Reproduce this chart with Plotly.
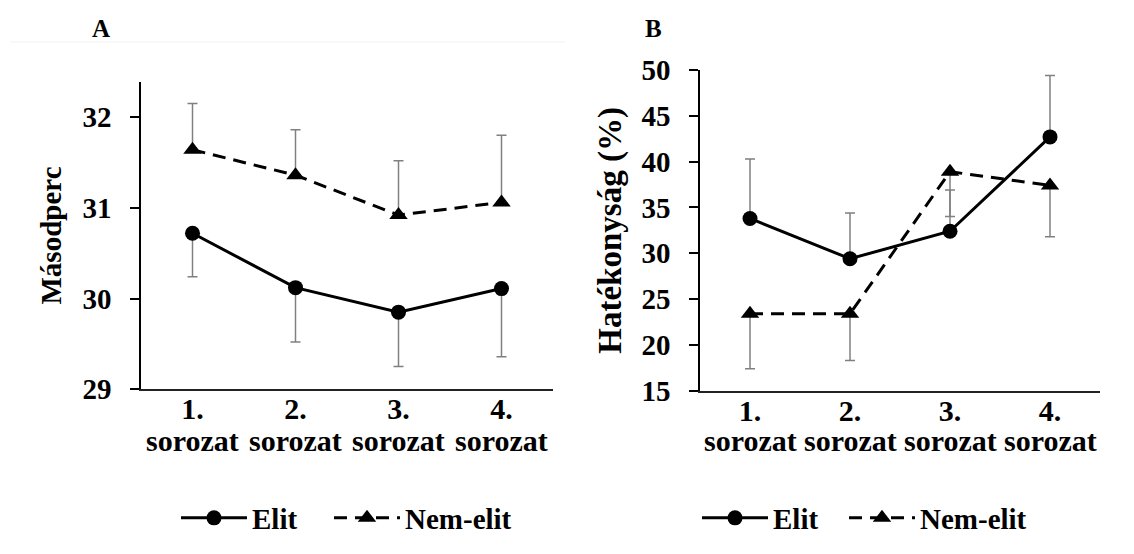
import plotly.graph_objects as go

# Categories (series of the test); second line of each label
categories = ["1.", "2.", "3.", "4."]
category_word = "sorozat"

# Panel A: time in seconds
sec_elit = [30.72, 30.12, 29.85, 30.11]
sec_elit_sd = [0.48, 0.60, 0.60, 0.75]
sec_nonelit = [31.64, 31.36, 30.92, 31.06]
sec_nonelit_sd = [0.51, 0.50, 0.60, 0.74]

# Panel B: efficiency (%)
eff_elit = [33.8, 29.4, 32.4, 42.7]
eff_elit_sd = [6.5, 5.0, 4.5, 6.7]
eff_nonelit = [23.4, 23.4, 38.9, 37.4]
eff_nonelit_sd = [6.0, 5.1, 4.9, 5.6]

zeros = [0, 0, 0, 0]
FONT = "Liberation Serif"
ERR_COLOR = "#808080"
H = 554
W = 1134


def bold(size):
    return dict(family=FONT, size=size, color="black", weight="bold")


def err(up, down):
    return dict(type="data", symmetric=False, array=up, arrayminus=down,
                color=ERR_COLOR, thickness=1.5, width=5)


fig = go.Figure()

# Panel A
fig.add_trace(go.Scatter(
    x=categories, y=sec_elit, name="Elit", mode="lines+markers",
    line=dict(color="black", width=3),
    marker=dict(symbol="circle", size=15, color="black"),
    error_y=err(zeros, sec_elit_sd), xaxis="x", yaxis="y",
    legend="legend", showlegend=True))
fig.add_trace(go.Scatter(
    x=categories, y=sec_nonelit, name="Nem-elit", mode="lines+markers",
    line=dict(color="black", width=3, dash="13px,8px"),
    marker=dict(symbol="triangle-up", size=16, color="black"),
    error_y=err(sec_nonelit_sd, zeros), xaxis="x", yaxis="y",
    legend="legend2", showlegend=True))

# Panel B
fig.add_trace(go.Scatter(
    x=categories, y=eff_elit, name="Elit", mode="lines+markers",
    line=dict(color="black", width=3),
    marker=dict(symbol="circle", size=15, color="black"),
    error_y=err(eff_elit_sd, zeros), xaxis="x2", yaxis="y2",
    legend="legend3", showlegend=True))
fig.add_trace(go.Scatter(
    x=categories, y=eff_nonelit, name="Nem-elit", mode="lines+markers",
    line=dict(color="black", width=3, dash="13px,8px"),
    marker=dict(symbol="triangle-up", size=16, color="black"),
    error_y=err(zeros, eff_nonelit_sd), xaxis="x2", yaxis="y2",
    legend="legend4", showlegend=True))

xcommon = dict(type="category", range=[-0.5, 3.5], showline=True, linecolor="#222",
               linewidth=2, ticks="", showgrid=False, zeroline=False,
               tickfont=bold(30), ticklabelstandoff=-8, fixedrange=True)
ycommon = dict(showline=True, linecolor="black", linewidth=1.5, ticks="outside",
               ticklen=9, tickwidth=1.5, tickcolor="black", showgrid=False,
               zeroline=False, tickfont=bold(29), ticklabelstandoff=13)

legend_common = dict(orientation="h", xanchor="left", yanchor="middle",
                     font=bold(29), bgcolor="rgba(0,0,0,0)", itemwidth=66,
                     y=1 - 518 / H, visible=True)

# second line of the category labels, placed on each panel's category scale
word_labels = []
for xref in ("x", "x2"):
    for i, _ in enumerate(categories):
        word_labels.append(dict(text=category_word, x=i, xref=xref, y=1 - 440 / H,
                                yref="paper", yanchor="middle", xanchor="center",
                                showarrow=False, font=bold(30)))

fig.update_layout(
    width=W, height=H,
    showlegend=True,
    margin=dict(l=0, r=0, t=0, b=0, autoexpand=False),
    paper_bgcolor="white", plot_bgcolor="white",
    font=dict(family=FONT, color="black"),
    xaxis=dict(domain=[141 / W, 553 / W], anchor="y", **xcommon),
    yaxis=dict(domain=[1 - 389.3 / H, 1 - 81.7 / H], anchor="x",
               range=[29, 32.39], tickvals=[29, 30, 31, 32],
               title=dict(text="Másodperc", standoff=12, font=bold(29)),
               **ycommon),
    xaxis2=dict(domain=[700 / W, 1100 / W], anchor="y2", **xcommon),
    yaxis2=dict(domain=[1 - 390.7 / H, 1 - 70 / H], anchor="x2",
                range=[15, 50], tickvals=[15, 20, 25, 30, 35, 40, 45, 50],
                title=dict(text="Hatékonyság (%)", standoff=10, font=bold(33)),
                **ycommon),
    legend=dict(x=176 / W, **legend_common),
    legend2=dict(x=329 / W, **legend_common),
    legend3=dict(x=697 / W, **legend_common),
    legend4=dict(x=844 / W, **legend_common),
    annotations=[
        dict(text="A", x=101 / W, y=1 - 28 / H, xref="paper", yref="paper",
             xanchor="center", yanchor="middle", showarrow=False, font=bold(25)),
        dict(text="B", x=653 / W, y=1 - 28 / H, xref="paper", yref="paper",
             xanchor="center", yanchor="middle", showarrow=False, font=bold(25)),
    ] + word_labels,
    shapes=[dict(type="line", xref="paper", yref="paper", x0=10 / W, x1=565 / W,
                 y0=1 - 42 / H, y1=1 - 42 / H, line=dict(color="#f2f2f2", width=1))],
)

fig.write_html("out.html")
